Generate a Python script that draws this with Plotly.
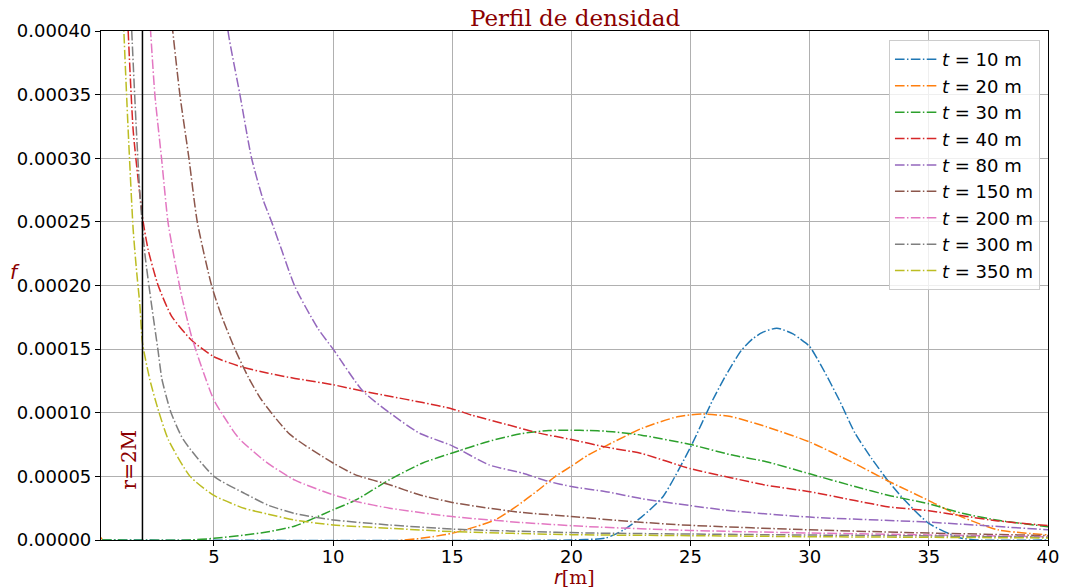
import plotly.graph_objects as go

# Density profile f(r) at several times t (r in metres)
R_T10 = [0.30, 0.35, 20.0, 21.45, 22.2, 22.94, 23.84, 25.0, 25.93, 26.5, 27.13, 27.6, 28.0, 28.62, 29.3, 29.6, 30.0,
         30.6, 31.24, 31.9, 32.6, 33.33, 34.0, 35.0, 36.25, 37.0, 40.0]
F_T10 = [0.0, 0.0, 0.0, 1.6e-6, 8e-6, 1.8e-5, 3.4e-5, 7.3e-5, 1.1e-4, 1.3e-4, 1.49e-4, 1.58e-4, 1.63e-4, 1.665e-4, 1.62e-4, 1.58e-4, 1.52e-4,
         1.33e-4, 1.1e-4, 8.4e-5, 6.4e-5, 4.55e-5, 3.1e-5, 1.3e-5, 2e-6, 0.0, 0.0]

R_T20 = [0.30, 0.34, 13.0, 14.18, 15.0, 16.0, 16.82, 17.66, 18.63, 19.33, 20.0, 20.72, 21.45, 22.94, 24.44,
         25.5, 26.68, 28.18, 30.0, 31.9, 33.33, 35.0, 36.4, 37.9, 40.0]
F_T20 = [2e-3, 0.0, 0.0, 2.6e-6, 5.3e-6, 1.05e-5, 1.6e-5, 2.6e-5, 3.95e-5, 5e-5, 5.8e-5, 6.7e-5, 7.4e-5, 8.76e-5, 9.68e-5,
         9.9e-5, 9.7e-5, 8.9e-5, 7.7e-5, 6.0e-5, 4.6e-5, 3.1e-5, 1.8e-5, 8e-6, 4e-6]

R_T30 = [0.30, 4.0, 5.0, 6.3, 7.28, 8.4, 10.0, 10.97, 12.37, 13.76, 15.0, 16.55, 17.94, 19.05, 20.0, 20.72,
         21.45, 22.94, 25.0, 26.68, 28.18, 30.0, 31.9, 33.33, 35.0, 36.4, 37.9, 40.0]
F_T30 = [0.0, 0.0, 1.3e-6, 3.9e-6, 6.5e-6, 1.1e-5, 2.37e-5, 3.16e-5, 4.74e-5, 6.05e-5, 6.84e-5, 7.76e-5, 8.37e-5, 8.6e-5, 8.63e-5, 8.6e-5,
         8.55e-5, 8.24e-5, 7.5e-5, 6.7e-5, 6.15e-5, 5.2e-5, 4.2e-5, 3.5e-5, 2.84e-5, 2.1e-5, 1.55e-5, 1.05e-5]

R_T40 = [1.2, 1.4, 1.61, 1.82, 2.03, 2.24, 2.66, 3.22, 4.06, 5.0, 6.16, 7.28, 8.4, 10.0, 11.25, 12.37, 13.76,
         15.0, 15.85, 17.24, 18.63, 20.0, 21.45, 22.94, 25.0, 26.68, 28.18, 30.0, 31.9, 33.33, 35.0, 36.4, 37.9, 40.0]
F_T40 = [5e-4, 4e-4, 3.22e-4, 2.83e-4, 2.5e-4, 2.28e-4, 2.0e-4, 1.76e-4, 1.57e-4, 1.44e-4, 1.36e-4, 1.31e-4, 1.27e-4, 1.22e-4, 1.17e-4, 1.13e-4, 1.08e-4,
         1.03e-4, 9.8e-5, 9.1e-5, 8.4e-5, 7.9e-5, 7.3e-5, 6.8e-5, 5.6e-5, 4.9e-5, 4.3e-5, 3.8e-5, 3.1e-5, 2.6e-5, 2.3e-5, 1.9e-5, 1.5e-5, 1.13e-5]

R_T80 = [5.35, 5.59, 6.09, 6.58, 7.07, 7.42, 7.84, 8.4, 9.37, 10.0, 11.25, 12.37, 13.62, 15.0, 16.55, 17.94,
         19.05, 20.0, 21.45, 22.94, 25.0, 26.68, 30.0, 35.0, 40.0]
F_T80 = [4.5e-4, 4e-4, 3.5e-4, 3.0e-4, 2.67e-4, 2.5e-4, 2.28e-4, 1.99e-4, 1.66e-4, 1.5e-4, 1.17e-4, 1.0e-4, 8.4e-5, 7.4e-5, 5.9e-5, 5.26e-5,
         4.6e-5, 4.2e-5, 3.8e-5, 3.25e-5, 2.7e-5, 2.3e-5, 1.8e-5, 1.4e-5, 8e-6]

R_T150 = [3.1, 3.27, 3.57, 3.95, 4.3, 4.9, 5.32, 5.88, 6.44, 7.0, 8.19, 10.0, 10.97, 12.37, 13.62, 15.0,
          16.55, 17.94, 20.0, 22.5, 25.0, 30.0, 35.0, 40.0]
F_T150 = [4.3e-4, 4e-4, 3.5e-4, 3.0e-4, 2.5e-4, 2.0e-4, 1.76e-4, 1.5e-4, 1.28e-4, 1.1e-4, 8.3e-5, 6.05e-5, 5.1e-5, 4.34e-5, 3.55e-5, 2.95e-5,
          2.5e-5, 2.16e-5, 1.85e-5, 1.45e-5, 1.15e-5, 8e-6, 5.5e-6, 3.5e-6]

R_T200 = [2.2, 2.34, 2.52, 2.8, 3.07, 3.3, 3.64, 4.06, 4.48, 5.0, 5.8, 6.09, 7.21, 8.4, 10.0, 10.97, 12.37,
          15.0, 17.94, 20.72, 25.0, 30.0, 35.0, 40.0]
F_T200 = [4.4e-4, 4e-4, 3.5e-4, 3.0e-4, 2.5e-4, 2.25e-4, 1.92e-4, 1.6e-4, 1.36e-4, 1.1e-4, 8.6e-5, 7.9e-5, 6.1e-5, 4.7e-5, 3.55e-5, 3.03e-5, 2.5e-5,
          1.84e-5, 1.37e-5, 1.05e-5, 7.5e-6, 5.5e-6, 4e-6, 2.6e-6]

R_T300 = [1.45, 1.55, 1.75, 1.9, 2.1, 2.38, 2.66, 2.81, 3.01, 3.2, 3.71, 5.0, 6.3, 7.28, 8.4, 10.0, 12.37,
          15.0, 17.94, 20.72, 25.0, 30.0, 35.0, 40.0]
F_T300 = [4.5e-4, 4e-4, 3.2e-4, 2.7e-4, 2.25e-4, 1.85e-4, 1.48e-4, 1.27e-4, 1.12e-4, 1.0e-4, 7.9e-5, 5e-5, 3.65e-5, 2.73e-5, 2.08e-5, 1.58e-5, 1.18e-5,
          8.6e-6, 6.8e-6, 5.5e-6, 4.7e-6, 3.9e-6, 3.2e-6, 2.1e-6]

R_T350 = [1.12, 1.22, 1.4, 1.61, 1.76, 1.89, 2.0, 2.31, 2.65, 3.08, 4.0, 5.0, 6.3, 7.28, 8.4, 10.0, 12.37,
          15.0, 20.0, 25.0, 30.0, 35.0, 40.0]
F_T350 = [4.6e-4, 4e-4, 3.22e-4, 2.44e-4, 2.1e-4, 1.85e-4, 1.55e-4, 1.26e-4, 1.03e-4, 7.9e-5, 5e-5, 3.5e-5, 2.47e-5, 2.03e-5, 1.56e-5, 1.18e-5, 9.2e-6,
          6.6e-6, 4.2e-6, 3.4e-6, 2.6e-6, 2.1e-6, 1.6e-6]

TIMES = [10, 20, 30, 40, 80, 150, 200, 300, 350]
RADII = [R_T10, R_T20, R_T30, R_T40, R_T80, R_T150, R_T200, R_T300, R_T350]
DENSITY = [F_T10, F_T20, F_T30, F_T40, F_T80, F_T150, F_T200, F_T300, F_T350]
COLORS = ["#1f77b4", "#ff7f0e", "#2ca02c", "#d62728", "#9467bd",
          "#8c564b", "#e377c2", "#7f7f7f", "#bcbd22"]

R_HORIZON = 2.0          # r = 2M
X_RANGE = [0.26, 40]
Y_RANGE = [0, 0.0004]
X_TICKS = [5, 10, 15, 20, 25, 30, 35, 40]
Y_TICKS = [0, 0.00005, 0.0001, 0.00015, 0.0002, 0.00025, 0.0003, 0.00035, 0.0004]

DARKRED = "#8b0000"
DASHDOT = "9.6px,2.4px,1.5px,2.4px"

fig = go.Figure()
for t, r, f, c in zip(TIMES, RADII, DENSITY, COLORS):
    fig.add_trace(go.Scatter(
        x=r, y=f, mode="lines", name=f"<i>t</i> = {t} m",
        line=dict(color=c, width=1.5, dash=DASHDOT, shape="spline", smoothing=0.6),
    ))

fig.add_shape(type="line", xref="x", yref="paper", x0=R_HORIZON, x1=R_HORIZON, y0=0, y1=1,
              line=dict(color="black", width=1.5), layer="above")

fig.add_annotation(x=1.45, y=0.0000636, xref="x", yref="y", text="r=2M", showarrow=False,
                   textangle=-90, xanchor="center", yanchor="middle",
                   font=dict(family="DejaVu Serif", size=20, color=DARKRED))

fig.add_annotation(x=0.5, y=1.0255, xref="paper", yref="paper", text="Perfil de densidad",
                   showarrow=False, xanchor="center", yanchor="middle",
                   font=dict(family="DejaVu Serif", size=23, color=DARKRED))

fig.add_annotation(x=0.5, y=-0.0725, xref="paper", yref="paper",
                   text="<i>r</i><span style='font-family:DejaVu Serif'>[m]</span>",
                   showarrow=False, xanchor="center", yanchor="middle",
                   font=dict(family="DejaVu Sans", size=19, color=DARKRED))

fig.add_annotation(x=-0.0908, y=0.5265, xref="paper", yref="paper", text="<i>f</i>",
                   showarrow=False, xanchor="center", yanchor="middle",
                   font=dict(family="DejaVu Sans", size=20, color=DARKRED))

axis_common = dict(
    showgrid=True, gridcolor="#b0b0b0", gridwidth=0.8,
    showline=True, linecolor="black", linewidth=1.2, mirror=True,
    ticks="outside", ticklen=5, tickwidth=1, tickcolor="black",
    tickfont=dict(family="DejaVu Sans", size=18, color="black"),
    zeroline=False,
)

fig.update_xaxes(range=X_RANGE, tickvals=X_TICKS, ticklabelstandoff=-5, **axis_common)
fig.update_yaxes(range=Y_RANGE, tickvals=Y_TICKS, tickformat=".5f", **axis_common)

fig.update_layout(
    width=1072, height=588,
    margin=dict(l=101, r=24, t=31, b=48),
    paper_bgcolor="white", plot_bgcolor="white",
    showlegend=True,
    legend=dict(
        x=0.9915, y=0.982, xanchor="right", yanchor="top",
        bgcolor="rgba(255,255,255,0.8)", bordercolor="#cccccc", borderwidth=1,
        font=dict(family="DejaVu Sans", size=18, color="black"),
        tracegroupgap=0, itemwidth=42,
    ),
)

fig.write_html("out.html")
